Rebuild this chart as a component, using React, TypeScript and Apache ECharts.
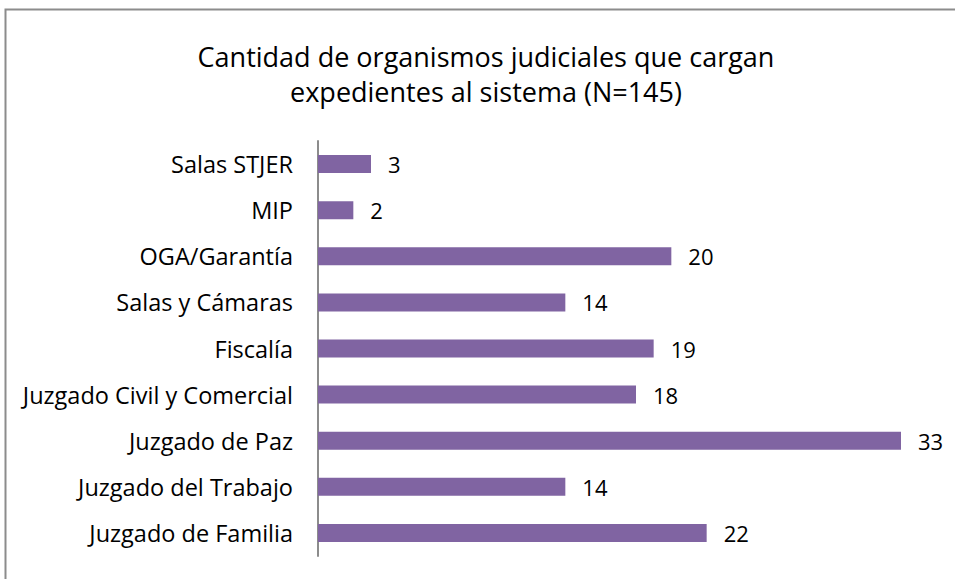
import React, { useEffect, useRef } from "react";
import * as echarts from "echarts";

const categories = [
  "Juzgado de Familia",
  "Juzgado del Trabajo",
  "Juzgado de Paz",
  "Juzgado Civil y Comercial",
  "Fiscalía",
  "Salas y Cámaras",
  "OGA/Garantía",
  "MIP",
  "Salas STJER",
];
const values = [22, 14, 33, 18, 19, 14, 20, 2, 3];
const titleText = "Cantidad de organismos judiciales que cargan\nexpedientes al sistema (N=145)";

const FONT = "'Open Sans', sans-serif";

export default function App() {
  const ref = useRef<HTMLDivElement>(null);
  useEffect(() => {
    if (!ref.current) return;
    const chart = echarts.init(ref.current, undefined, { renderer: "svg" });
    chart.setOption({
      animation: false,
      backgroundColor: "#ffffff",
      title: {
        text: titleText,
        left: 481,
        textAlign: "center",
        top: 34,
        textStyle: {
          fontFamily: FONT,
          fontSize: 27,
          fontWeight: "normal",
          color: "#000",
          lineHeight: 35,
        },
      },
      graphic: [
        {
          type: "rect",
          shape: { x: 5.5, y: 9.5, width: 960, height: 600 },
          style: { fill: "none", stroke: "#8c8c8c", lineWidth: 2 },
          silent: true,
          z: 100,
        },
      ],
      grid: { left: 318, top: 141, width: 583, height: 415 },
      xAxis: {
        type: "value",
        min: 0,
        max: 33,
        show: false,
        splitLine: { show: false },
      },
      yAxis: {
        type: "category",
        data: categories,
        axisLine: { show: true, lineStyle: { color: "#8c8c8c", width: 2 } },
        axisTick: { show: false },
        axisLabel: {
          margin: 25,
          fontFamily: FONT,
          fontSize: 23.5,
          color: "#000",
        },
      },
      series: [
        {
          type: "bar",
          data: values,
          barWidth: 18,
          itemStyle: { color: "#8064A2" },
          label: {
            show: true,
            position: "right",
            distance: 17,
            fontFamily: FONT,
            fontSize: 22,
            color: "#000",
          },
        },
      ],
    });
    return () => chart.dispose();
  }, []);
  return (
    <div
      ref={ref}
      style={{ position: "fixed", left: 0, top: 0, width: 955, height: 579 }}
    />
  );
}
